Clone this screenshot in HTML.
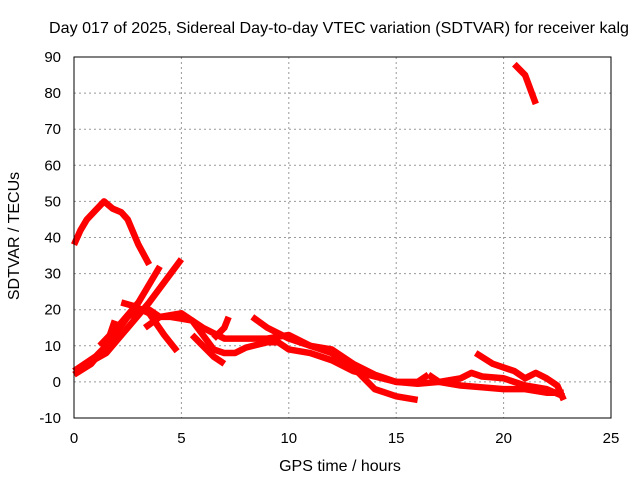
<!DOCTYPE html>
<html><head><meta charset="utf-8"><style>
body{margin:0;background:#fff;}
svg{display:block;font-family:"Liberation Sans",sans-serif;}
</style></head><body>
<svg width="640" height="480" id="chart"></svg>
<script>
const xTicks=[0,5,10,15,20,25];
const yTicks=[-10,0,10,20,30,40,50,60,70,80,90];
const s1=[[0,38],[0.3,42],[0.6,45],[1,47.5],[1.4,50],[1.8,48],[2.2,47],[2.5,45],[3,38],[3.5,32.5]];
const s2=[[0,3],[1,7],[1.5,10],[2,14],[2.5,18],[3,20],[3.5,20],[4,18],[4.5,18],[5,17.5],[5.5,17],[6,13],[6.5,9],[7,8],[7.5,8],[8,9.5],[9,11],[9.5,11],[10,9],[11,8],[12,6],[13,3],[14,1.5],[15,0],[16,-0.5],[17,0],[18,-1],[19,-1.5],[20,-2],[21,-2],[22,-3],[22.8,-3]];
const s3=[[1.2,10],[2,15],[3,22],[4,32]];
const s4=[[0.3,4],[1.5,8],[2.5,15],[3.5,22],[5,34]];
const s5=[[0,2],[0.8,5],[1.5,10],[1.9,17]];
const s6=[[2.2,22],[2.8,21],[3.5,19],[4.2,13],[4.8,8.5]];
const s7=[[3.3,15],[4,18],[5,19],[5.5,17],[6,15],[7,12],[8,12],[9,12],[10,13],[11,10],[12,9],[13,5],[14,2],[15,0],[16,0],[16.5,2]];
const s8=[[5.5,13],[6,10],[6.5,7],[7,5]];
const s9=[[8.3,18],[9,15],[10,12],[11,10],[12,8],[13,4],[14,-2],[15,-4],[16,-5]];
const s10=[[6.5,12],[7,15],[7.2,18]];
const s11=[[16.5,2],[17,0],[18,1],[18.5,2.5],[19,1.5],[20,1],[21,-1],[22,-2],[22.8,-4]];
const s12=[[18.7,8],[19.5,5],[20.5,3],[21,1],[21.5,2.5],[22,1],[22.5,-1],[22.8,-5]];
const s13=[[20.5,88],[21,85],[21.5,77]];
const series=[s1,s2,s3,s4,s5,s6,s7,s8,s9,s10,s11,s12,s13];
const X0=74,X1=611,Y0=418,Y1=57;
const sx=v=>X0+(v-0)/25*(X1-X0);
const sy=v=>Y0-(v+10)/100*(Y0-Y1);
const svg=document.getElementById('chart');
const NS='http://www.w3.org/2000/svg';
function mk(t,a,txt){const e=document.createElementNS(NS,t);for(const k in a)e.setAttribute(k,a[k]);if(txt!==undefined)e.textContent=txt;svg.appendChild(e);return e;}
xTicks.forEach(t=>{
 if(t>0&&t<25){const g=mk('line',{x1:sx(t),x2:sx(t),y1:Y1,y2:Y0,stroke:'#999','stroke-dasharray':'2,3'});
 
 }
 const l=mk('text',{x:sx(t),y:Y0+25,'text-anchor':'middle','font-size':'15'},String(t));
 
 
});
yTicks.forEach(t=>{
 if(t>-10&&t<90){const g=mk('line',{x1:X0,x2:X1,y1:sy(t),y2:sy(t),stroke:'#999','stroke-dasharray':'2,3'});
 
 }
 const l=mk('text',{x:X0-13,y:sy(t)+5,'text-anchor':'end','font-size':'15'},String(t));
 
 
});
series.forEach((s,i)=>{
 const p=mk('polyline',{points:s.map(d=>sx(d[0])+','+sy(d[1])).join(' '),fill:'none',stroke:'#ff0000','stroke-width':'6.5','stroke-linejoin':'round'});
 
 
});
const f=mk('rect',{x:X0,y:Y1,width:X1-X0,height:Y0-Y1,fill:'none',stroke:'#000','stroke-width':'1'});


const tt=mk('text',{x:339,y:33,'text-anchor':'middle','font-size':'16','textLength':'580','lengthAdjust':'spacingAndGlyphs'},'Day 017 of 2025, Sidereal Day-to-day VTEC variation (SDTVAR) for receiver kalg');


const xt=mk('text',{x:340,y:471,'text-anchor':'middle','font-size':'16'},'GPS time / hours');


const yt=mk('text',{x:19,y:236,'text-anchor':'middle','font-size':'16',transform:'rotate(-90 19 236)'},'SDTVAR / TECUs');


</script>
</body></html>
